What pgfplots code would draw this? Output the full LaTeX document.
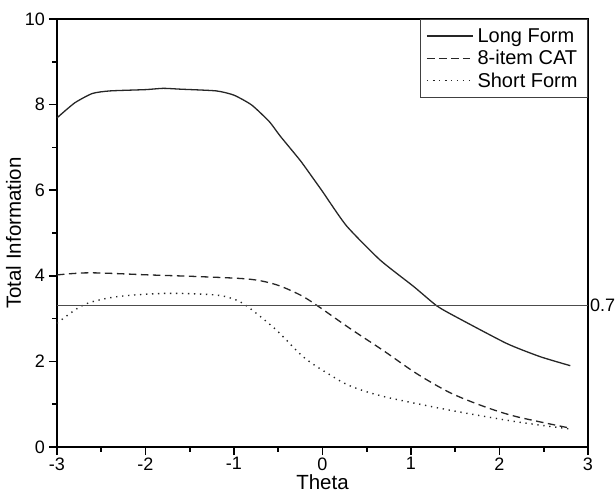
\documentclass[border=0pt]{standalone}
\usepackage{pgfplots}
\pgfplotsset{compat=1.18}
\usepackage{fontspec}
\setmainfont{Liberation Sans}

\begin{document}
\begin{tikzpicture}
\begin{axis}[
    scale only axis,
    width=531pt, height=428pt,
    xmin=-3, xmax=3, ymin=0, ymax=10,
    xtick={-3,-2,-1,0,1,2,3},
    ytick={0,2,4,6,8,10},
    minor x tick num=1, minor y tick num=1,
    tick align=outside, tick pos=left,
    major tick length=8pt, minor tick length=4.5pt,
    axis line style={line width=2pt},
    every tick/.style={line width=1.6pt, black},
    /pgf/number format/assume math mode=true,
    ticklabel style={font=\fontsize{18}{18}\selectfont},
    xticklabel style={yshift=1pt},
    yticklabel style={xshift=-0.5pt},
    xlabel=Theta, ylabel=Total Information,
    label style={font=\fontsize{20.5}{20.5}\selectfont},
    xlabel style={yshift=3pt},
    ylabel style={yshift=-3pt},
    clip=false,
    legend style={at={(1,1)}, anchor=north east, draw=black!75, line width=0.9pt,
        font=\fontsize{20}{22}\selectfont, inner xsep=6pt, inner ysep=7pt,
        row sep=2.5pt, nodes={inner xsep=4pt}},
    legend cell align=left,
    legend image code/.code={\draw[#1] plot coordinates {(0pt,0pt)(46pt,0pt)};},
]
\coordinate (ll) at (rel axis cs:0,0);
\coordinate (ur) at (rel axis cs:1,1);

\addplot[line width=1.3pt, black!85, smooth, tension=0.35]
coordinates{(-3,7.69)(-2.8,8.04)(-2.6,8.26)(-2.4,8.32)(-2.0,8.35)(-1.8,8.38)(-1.6,8.36)(-1.2,8.32)(-1.0,8.22)(-0.8,7.99)(-0.6,7.6)(-0.48,7.27)(-0.25,6.69)(-0.1,6.26)(0,5.97)(0.27,5.17)(0.65,4.37)(1.03,3.75)(1.29,3.30)(1.5,3.05)(2.08,2.42)(2.46,2.11)(2.8,1.90)};
\addlegendentry{Long Form}

\addplot[line width=1.3pt, black!85, smooth, dash pattern=on 7.5pt off 4.5pt]
coordinates{(-3,4.02)(-2.63,4.07)(-1.95,4.02)(-1.38,3.98)(-0.82,3.92)(-0.52,3.79)(-0.25,3.55)(-0.05,3.29)(0.31,2.77)(0.69,2.25)(1.06,1.72)(1.44,1.27)(1.82,0.95)(2.19,0.71)(2.8,0.44)};
\addlegendentry{8-item CAT}

\addplot[line width=1.4pt, black!85, smooth, dash pattern=on 1.3pt off 4.7pt]
coordinates{(-3,2.89)(-2.7,3.32)(-2.33,3.51)(-1.76,3.59)(-1.2,3.55)(-0.97,3.43)(-0.82,3.24)(-0.52,2.73)(-0.22,2.11)(0.05,1.73)(0.31,1.43)(0.69,1.18)(1.44,0.86)(2.19,0.59)(2.8,0.42)};
\addlegendentry{Short Form}

\addplot[line width=1.4pt, black!70, forget plot] coordinates{(-3,3.3)(3,3.3)};
\node[anchor=west, font=\fontsize{18}{18}\selectfont, inner sep=2pt] at (axis cs:3,3.3) {0.7};
\end{axis}
\pgfresetboundingbox
\path[use as bounding box] ([shift={(-57pt,-49pt)}]ll) rectangle ([shift={(27pt,19pt)}]ur);
\end{tikzpicture}
\end{document}
